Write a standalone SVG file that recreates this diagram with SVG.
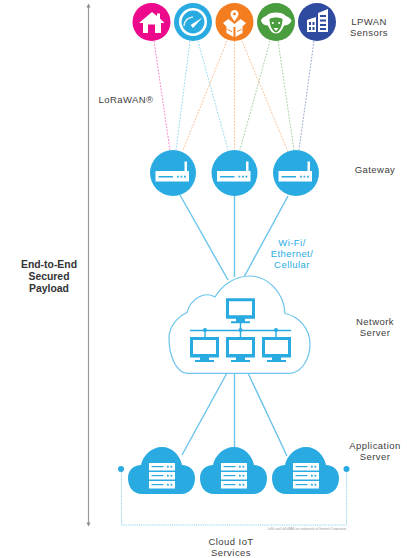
<svg xmlns="http://www.w3.org/2000/svg" width="407" height="558" viewBox="0 0 407 558">
<style>
text{font-family:"Liberation Sans",Arial,sans-serif;font-size:9.5px;letter-spacing:.45px;fill:#404040;text-anchor:middle}
.b{font-weight:700;fill:#333;font-size:10.4px;letter-spacing:0}
.w{fill:#29abe2}
.dot{fill:none;stroke-width:.9;stroke-dasharray:1.8 1.4;opacity:.55}
.solid{fill:none;stroke:#6cc4ea;stroke-width:1.4}
.wh{fill:#fff}
.bl{fill:#29abe2}
</style>
<defs>
<g id="router">
<circle r="23" fill="#29abe2"/>
<path class="wh" d="M-17.500 -2H11.500V-11.500H14V-2H16V8.500H-17.500Z"/>
<path class="bl" d="M-14.500 3H0V4.400H-14.500ZM4 2.800h1.800v1.800h-1.800ZM7.500 2.800h1.800v1.800h-1.800ZM11 2.800h1.800v1.800h-1.800Z"/>
</g>
<g id="monitor">
<path class="bl" d="M0 0H29V20.500H19V23H24V25H5V23H10V20.500H0ZM3 3V17H26V3Z"/>
</g>
<g id="appcloud">
<path class="bl" d="M14 47C5 47 0 40 0 31C0 23 6 18 13 18C15 8 24 0 34 0C44 0 52 8 54 18C61 18 67 23 67 31C67 40 62 47 53 47Z"/>
<g class="wh"><rect x="21" y="16" width="26" height="7.500"/><rect x="21" y="25" width="26" height="7.500"/><rect x="21" y="34" width="26" height="7.500"/></g>
<g class="bl"><rect x="23.500" y="19" width="12" height="1.200"/><rect x="23.500" y="28" width="12" height="1.200"/><rect x="23.500" y="37" width="12" height="1.200"/><rect x="39" y="18.800" width="1.800" height="1.800"/><rect x="42.500" y="18.800" width="1.800" height="1.800"/><rect x="39" y="27.800" width="1.800" height="1.800"/><rect x="42.500" y="27.800" width="1.800" height="1.800"/><rect x="39" y="36.800" width="1.800" height="1.800"/><rect x="42.500" y="36.800" width="1.800" height="1.800"/></g>
</g>
</defs>

<g id="connectors">
<path d="M88.500 6V524" stroke="#9a9a9a" stroke-width="1.200" fill="none"/>
<path d="M88.500 3.500L86.500 7.500H90.500ZM88.500 526.500L86.500 522.500H90.500Z" fill="#8a8a8a"/>
<path class="dot" stroke="#ec098c" d="M154 41L170 150"/>
<path class="dot" stroke="#29abe2" d="M190 41L176 150M198 41L228 150"/>
<path class="dot" stroke="#f47d20" d="M227 41L183 150M234.500 41V150M242 41L288 152"/>
<path class="dot" stroke="#4a9d3f" d="M270 41L240 150M278 41L294 150"/>
<path class="dot" stroke="#2f4b9f" d="M314 41L299 150"/>
<path class="solid" d="M180 195L228 280M234.500 196V277M288 196L244 277"/>
<path class="solid" d="M227 373L182 455M234.500 373V447M248 373L287 456"/>
<path d="M121.500 472V525H346.500V472" fill="none" stroke="#8fd3ef" stroke-width="1" stroke-dasharray="1.200 1"/>
</g>

<g id="sensor-home">
<circle cx="151.500" cy="22" r="19" fill="#ec098c"/>
<path class="wh" d="M152 12L157 16V13.500H160V18.500L164.500 23H161V33H155V24.500H148V33H143V23H139Z"/>
</g>
<g id="sensor-meter">
<circle cx="193" cy="22" r="19" fill="#29abe2"/>
<circle cx="193" cy="22" r="12.700" fill="none" stroke="#fff" stroke-width="2.600"/>
<path d="M184 26C184.500 21 188 17.500 193 17" fill="none" stroke="#d5effa" stroke-width="1.600"/>
<path class="wh" d="M190.500 25L202.500 17.500L193 28Z"/>
</g>
<g id="sensor-parcel">
<circle cx="234.500" cy="22" r="19" fill="#f47d20"/>
<path class="wh" d="M234.500 10C232.200 10 230.500 11.800 230.500 14C230.500 16.200 233 19 234.500 21.500C236 19 238.500 16.200 238.500 14C238.500 11.800 236.800 10 234.500 10Z"/>
<circle cx="234.500" cy="14" r="1.400" fill="#f47d20"/>
<path class="wh" d="M223 23L228.500 19L234.500 24L240.500 19L246 23L242.500 26.500V33L235.500 37V27H233.500V37L226.500 33V26.500Z"/>
<path d="M227.500 29.500L232 31.500M241.500 29.500L237 31.500" fill="none" stroke="#f47d20" stroke-width="1"/>
</g>
<g id="sensor-sheep">
<circle cx="276" cy="22" r="19" fill="#4a9d3f"/>
<path class="wh" d="M276 12.500C272 12.500 268 13.500 266 16C263 17 261 19 261 21C262 24 265 25.500 268 25.500C270 30 272 33.500 276 33.500C280 33.500 282 30 284 25.500C287 25.500 290 24 291.500 21C291 19 289 17 286 16C284 13.500 280 12.500 276 12.500Z"/>
<path fill="#4a9d3f" d="M269.500 19C273 17 279 17 282.500 19C282.500 25 280 31.500 276 32.500C272 31.500 269.500 25 269.500 19Z"/>
<path class="wh" d="M273.500 28H278.500L276 31Z"/>
<circle cx="272.800" cy="23" r="1.100" class="wh"/><circle cx="279.200" cy="23" r="1.100" class="wh"/>
</g>
<g id="sensor-building">
<circle cx="317" cy="22" r="19" fill="#2f4b9f"/>
<path class="wh" d="M318 13L328 9V32H318Z"/>
<path class="wh" d="M307 20L316 17V32H307Z"/>
<path fill="#2f4b9f" d="M320 15H326V17H320ZM320 19.500H326V21.500H320ZM320 24H326V26H320ZM320 28H326V30H320ZM309 22h2v3h-2ZM312.500 22h2v3h-2ZM309 27h2v3h-2ZM312.500 27h2v3h-2Z"/>
</g>

<g id="gateway-1"><use href="#router" x="173" y="173"/></g>
<g id="gateway-2"><use href="#router" x="234.500" y="173"/></g>
<g id="gateway-3"><use href="#router" x="296" y="173"/></g>

<g id="network-server">
<path d="M187 373.300H290C302 373 310 358 310 344C310 328 298 316 285 313.500C284 292 267 276 250 276C235 276 222 285 215 297C205 291 191 298 187 312.500C177 317 169 327 169 338C169 356 176 372 187 373.300Z" fill="#fff" stroke="#6cc4ea" stroke-width="1.200"/>
<use href="#monitor" x="226" y="298.300"/>
<use href="#monitor" x="190" y="337"/>
<use href="#monitor" x="226" y="337"/>
<use href="#monitor" x="262" y="337"/>
<path d="M190 330.500H291M205 330.500V337M240.500 323V337M276 330.500V337" fill="none" stroke="#29abe2" stroke-width="1.400"/>
<circle class="bl" cx="205" cy="330" r="2"/><circle class="bl" cx="240.500" cy="330" r="2"/><circle class="bl" cx="276" cy="330" r="2"/>
</g>

<g id="app-cloud-1"><use href="#appcloud" x="128" y="447"/></g>
<g id="app-cloud-2"><use href="#appcloud" x="200" y="447"/></g>
<g id="app-cloud-3"><use href="#appcloud" x="272" y="447"/></g>
<g id="cloud-dot-left"><circle class="bl" cx="121" cy="469" r="3"/></g>
<g id="cloud-dot-right"><circle class="bl" cx="346.500" cy="469" r="3"/></g>

<g id="labels">
<text x="369" y="25">LPWAN</text><text x="369" y="36">Sensors</text>
<text x="126" y="102.500">LoRaWAN®</text>
<text x="375" y="172.500">Gateway</text>
<text class="w" x="292" y="246">Wi-Fi/</text><text class="w" x="292" y="257">Ethernet/</text><text class="w" x="292" y="268">Cellular</text>
<text x="375" y="324.500">Network</text><text x="375" y="335.500">Server</text>
<text x="375" y="448.500">Application</text><text x="375" y="459.500">Server</text>
<text x="231" y="545">Cloud IoT</text><text x="231" y="556">Services</text>
<text class="b" x="49" y="268">End-to-End</text><text class="b" x="49" y="280">Secured</text><text class="b" x="49" y="292">Payload</text>
<text x="347" y="530" style="font-size:2.900px;letter-spacing:0;text-anchor:end;fill:#999">LoRa and LoRaWAN are trademarks of Semtech Corporation.</text>
</g>
</svg>
